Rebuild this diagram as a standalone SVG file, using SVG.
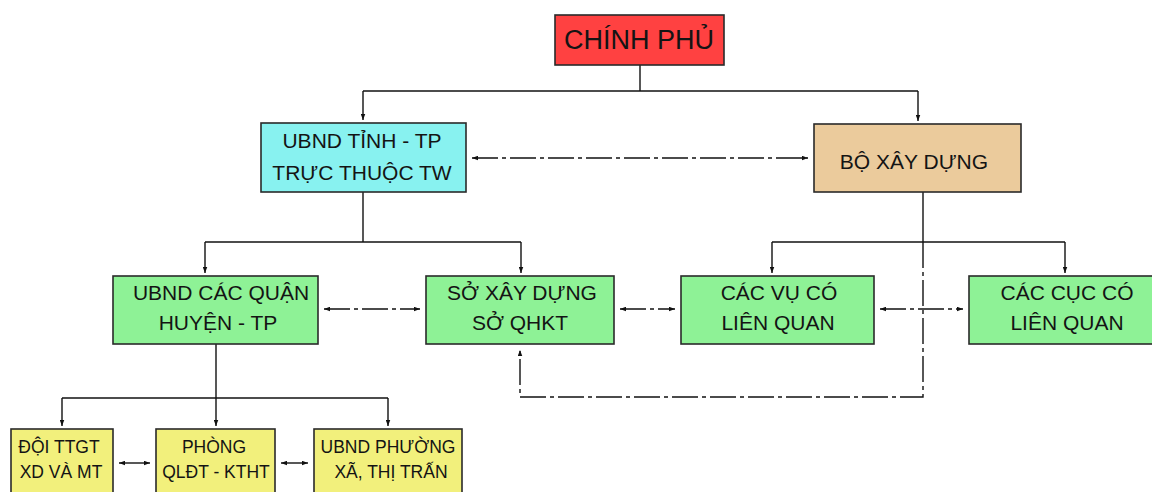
<svg xmlns="http://www.w3.org/2000/svg" width="1152" height="492" viewBox="0 0 1152 492">
  <style>
    .box { stroke: #2a2a2a; stroke-width: 1.6; }
    .red { fill: #ff4141; }
    .cyan { fill: #88f2f0; }
    .tan { fill: #ebcb9c; }
    .green { fill: #8ef296; }
    .yellow { fill: #f2f07c; }
    text { font-family: "Liberation Sans", Arial, sans-serif; fill: #141414; text-anchor: middle; }
    .t21 { font-size: 21px; }
    .t17 { font-size: 17.5px; }
    .t27 { font-size: 27px; }
    .ln { fill: none; stroke: #111; stroke-width: 1.4; }
    .dd { stroke-dasharray: 26 4 4 4; }
  </style>
  <defs>
    <marker id="tip" viewBox="0 0 8 6" refX="8" refY="3" markerWidth="6" markerHeight="5" orient="auto" markerUnits="userSpaceOnUse">
      <path d="M0,0 L8,3 L0,6 z" fill="#111"/>
    </marker>
    <marker id="tipS" viewBox="0 0 8 6" refX="0" refY="3" markerWidth="6" markerHeight="5" orient="auto" markerUnits="userSpaceOnUse">
      <path d="M8,0 L0,3 L8,6 z" fill="#111"/>
    </marker>
  </defs>

  <g id="connectors">
    <!-- government to the two main branches -->
    <path class="ln" d="M640,65 V91"/>
    <path class="ln" d="M363,91 H918"/>
    <path class="ln" d="M363,91 V120" marker-end="url(#tip)"/>
    <path class="ln" d="M918,91 V121" marker-end="url(#tip)"/>
    <!-- province to ministry coordination -->
    <path class="ln dd" d="M472,158 H808" marker-start="url(#tipS)" marker-end="url(#tip)"/>
    <!-- province branch -->
    <path class="ln" d="M363,192 V242"/>
    <path class="ln" d="M205,242 H521"/>
    <path class="ln" d="M205,242 V273" marker-end="url(#tip)"/>
    <path class="ln" d="M521,242 V273" marker-end="url(#tip)"/>
    <!-- ministry branch -->
    <path class="ln" d="M923,192 V242"/>
    <path class="ln" d="M772,242 H1065"/>
    <path class="ln" d="M772,242 V273" marker-end="url(#tip)"/>
    <path class="ln" d="M1065,242 V273" marker-end="url(#tip)"/>
    <!-- ministry back to department of construction -->
    <path class="ln dd" d="M923,242 V397 H520 V350" marker-end="url(#tip)"/>
    <!-- row 3 coordination -->
    <path class="ln dd" d="M324,309 H420" marker-start="url(#tipS)" marker-end="url(#tip)"/>
    <path class="ln dd" d="M620,309 H675" marker-start="url(#tipS)" marker-end="url(#tip)"/>
    <path class="ln dd" d="M880,309 H963" marker-start="url(#tipS)" marker-end="url(#tip)"/>
    <!-- district branch -->
    <path class="ln" d="M216,344 V398"/>
    <path class="ln" d="M62,398 H388"/>
    <path class="ln" d="M62,398 V426" marker-end="url(#tip)"/>
    <path class="ln" d="M216,398 V426" marker-end="url(#tip)"/>
    <path class="ln" d="M388,398 V426" marker-end="url(#tip)"/>
    <!-- bottom row links -->
    <path class="ln" d="M119,463 H150" marker-start="url(#tipS)" marker-end="url(#tip)"/>
    <path class="ln" d="M281,463 H308" marker-start="url(#tipS)" marker-end="url(#tip)"/>
  </g>

  <g id="chinh-phu">
    <rect class="box red" x="555" y="15" width="169" height="50"/>
    <text class="t27" x="639" y="49">CHÍNH PHỦ</text>
  </g>

  <g id="ubnd-tinh">
    <rect class="box cyan" x="261" y="123" width="205" height="69"/>
    <text class="t21" x="362" y="148">UBND TỈNH - TP</text>
    <text class="t21" x="362" y="180">TRỰC THUỘC TW</text>
  </g>

  <g id="bo-xay-dung">
    <rect class="box tan" x="814" y="124" width="207" height="68"/>
    <text class="t21" x="914" y="169">BỘ XÂY DỰNG</text>
  </g>

  <g id="ubnd-quan-huyen">
    <rect class="box green" x="113" y="276" width="205" height="68"/>
    <text class="t21" x="221" y="300">UBND CÁC QUẬN</text>
    <text class="t21" x="218" y="330">HUYỆN - TP</text>
  </g>

  <g id="so-xay-dung">
    <rect class="box green" x="426" y="276" width="188" height="68"/>
    <text class="t21" x="522" y="300">SỞ XÂY DỰNG</text>
    <text class="t21" x="520" y="330">SỞ QHKT</text>
  </g>

  <g id="cac-vu">
    <rect class="box green" x="681" y="276" width="193" height="68"/>
    <text class="t21" x="779" y="300">CÁC VỤ CÓ</text>
    <text class="t21" x="778" y="330">LIÊN QUAN</text>
  </g>

  <g id="cac-cuc">
    <rect class="box green" x="969" y="276" width="192" height="68"/>
    <text class="t21" x="1067" y="300">CÁC CỤC CÓ</text>
    <text class="t21" x="1067" y="330">LIÊN QUAN</text>
  </g>

  <g id="doi-ttgt">
    <rect class="box yellow" x="11" y="429" width="102" height="70"/>
    <text class="t17" x="59" y="453">ĐỘI TTGT</text>
    <text class="t17" x="61" y="478">XD VÀ MT</text>
  </g>

  <g id="phong-qldt">
    <rect class="box yellow" x="156" y="429" width="119" height="70"/>
    <text class="t17" x="214" y="453">PHÒNG</text>
    <text class="t17" x="216" y="478">QLĐT - KTHT</text>
  </g>

  <g id="ubnd-phuong">
    <rect class="box yellow" x="314" y="429" width="148" height="70"/>
    <text class="t17" x="388" y="453">UBND PHƯỜNG</text>
    <text class="t17" x="391" y="478">XÃ, THỊ TRẤN</text>
  </g>
</svg>
